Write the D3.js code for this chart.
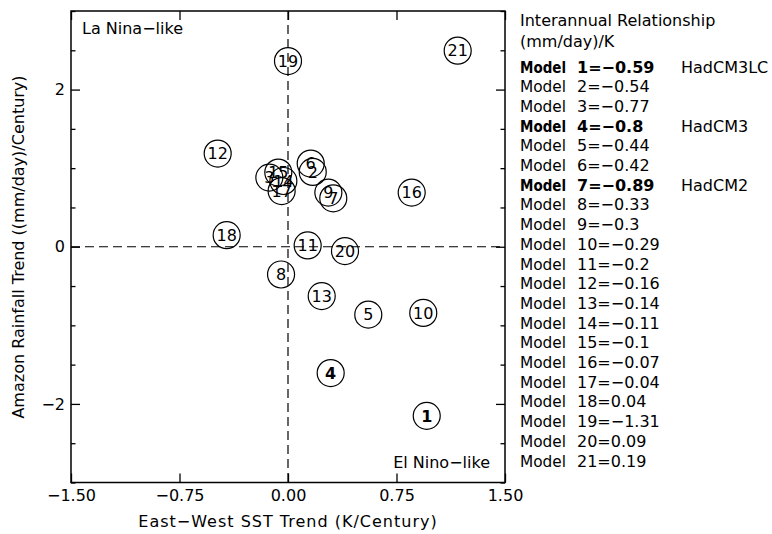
<!DOCTYPE html>
<html>
<head>
<meta charset="utf-8">
<script src="https://cdn.jsdelivr.net/npm/d3@7"></script>
<style>
  body { margin: 0; background: #fff; }
  text { font-family: "DejaVu Sans", sans-serif; fill: #000; }
</style>
</head>
<body>
<svg id="chart" width="772" height="534"></svg>
<script>
// ---- data ----
const modelIds   = [1,2,3,4,5,6,7,8,9,10,11,12,13,14,15,16,17,18,19,20,21];
const sstTrend   = [0.959,0.171,-0.129,0.295,0.555,0.157,0.313,-0.048,0.279,0.935,0.136,-0.486,0.233,-0.032,-0.067,0.855,-0.044,-0.424,0.0,0.394,1.173];
const rainTrend  = [-2.152,0.952,0.880,-1.607,-0.864,1.059,0.616,-0.353,0.689,-0.842,0.017,1.186,-0.628,0.837,0.944,0.689,0.709,0.147,2.363,-0.056,2.495];
const interannual= ["−0.59","−0.54","−0.77","−0.8","−0.44","−0.42","−0.89","−0.33","−0.3","−0.29","−0.2","−0.16","−0.14","−0.11","−0.1","−0.07","−0.04","0.04","−1.31","0.09","0.19"];
const boldModels = [1,4,7];
const boldPoints = [1,4];
const modelNames = {1:"HadCM3LC", 4:"HadCM3", 7:"HadCM2"};
const xTicks = [-1.5,-0.75,0,0.75,1.5];
const yMajorTicks = [-2,0,2];
const yMinorTicks = [-3,-2.5,-1.5,-1,-0.5,0.5,1,1.5,2.5,3];

const svg = d3.select("#chart");
const L = 71, R = 505, T = 11, B = 482.5;
const x = d3.scaleLinear().domain([-1.5,1.5]).range([L,R]);
const y = d3.scaleLinear().domain([-3,3]).range([B,T]);

// axes
const fmtX = d3.format(".2f");
const gB = svg.append("g").attr("transform",`translate(0,${B})`)
  .call(d3.axisBottom(x).tickValues(xTicks).tickFormat(fmtX).tickSize(-9).tickPadding(7));
const gT = svg.append("g").attr("transform",`translate(0,${T})`)
  .call(d3.axisTop(x).tickValues(xTicks).tickFormat("").tickSize(-9));
const gL = svg.append("g").attr("transform",`translate(${L},0)`)
  .call(d3.axisLeft(y).tickValues(yMajorTicks).tickFormat(d3.format("d")).tickSize(-9).tickPadding(6));
const gLm = svg.append("g").attr("transform",`translate(${L},0)`)
  .call(d3.axisLeft(y).tickValues(yMinorTicks).tickFormat("").tickSize(-4.5));
const gR = svg.append("g").attr("transform",`translate(${R},0)`)
  .call(d3.axisRight(y).tickValues(yMajorTicks).tickFormat("").tickSize(-9));
const gRm = svg.append("g").attr("transform",`translate(${R},0)`)
  .call(d3.axisRight(y).tickValues(yMinorTicks).tickFormat("").tickSize(-4.5));
[gB,gT,gL,gLm,gR,gRm].forEach(g => {
  g.select(".domain").remove();
  g.selectAll("line").attr("stroke","#000").attr("stroke-width",1.3);
  g.selectAll("text").attr("font-family","DejaVu Sans").attr("font-size",16).attr("fill","#000");
});

// frame
svg.append("rect").attr("x",L).attr("y",T).attr("width",R-L).attr("height",B-T)
  .attr("fill","none").attr("stroke","#000").attr("stroke-width",1.5);

// dashed zero lines
svg.append("line").attr("x1",x(0)).attr("x2",x(0)).attr("y1",T).attr("y2",B)
  .attr("stroke","#000").attr("stroke-width",1.2).attr("stroke-dasharray","9,5");
svg.append("line").attr("x1",L).attr("x2",R).attr("y1",y(0)).attr("y2",y(0))
  .attr("stroke","#000").attr("stroke-width",1.2).attr("stroke-dasharray","9,5");

// points
const pts = modelIds.map((id,i)=>({id, x:sstTrend[i], y:rainTrend[i]}));
const gp = svg.append("g").selectAll("g").data(pts).join("g")
  .attr("transform",d=>`translate(${x(d.x)},${y(d.y)})`);
gp.append("circle").attr("r",13.5).attr("fill","none").attr("stroke","#000").attr("stroke-width",1.2);
gp.append("text").attr("text-anchor","middle").attr("dy","0.36em")
  .attr("font-size",16).attr("font-weight",d=>boldPoints.includes(d.id)?"bold":"normal")
  .text(d=>d.id);

// corner annotations
svg.append("text").attr("x",82).attr("y",34).attr("font-size",16).text("La Nina−like");
svg.append("text").attr("x",490).attr("y",468).attr("text-anchor","end").attr("font-size",16).text("El Nino−like");

// axis titles
svg.append("text").attr("x",(L+R)/2).attr("y",527).attr("text-anchor","middle").attr("font-size",16)
  .attr("letter-spacing",1).text("East−West SST Trend (K/Century)");
svg.append("text").attr("transform","translate(24,247) rotate(-90)").attr("text-anchor","middle").attr("font-size",16)
  .text("Amazon Rainfall Trend ((mm/day)/Century)");

// legend
const lx = 520;
svg.append("text").attr("x",lx).attr("y",26).attr("font-size",16).text("Interannual Relationship");
svg.append("text").attr("x",lx).attr("y",47).attr("font-size",16).text("(mm/day)/K");
const ly0 = 72.5, ldy = 19.7;
modelIds.forEach((id,i)=>{
  const bold = boldModels.includes(id);
  const t = svg.append("text").attr("x",lx).attr("y",ly0+i*ldy).attr("font-size",16)
    .attr("font-weight",bold?"bold":"normal");
  t.append("tspan").attr("textLength",46).attr("lengthAdjust","spacingAndGlyphs").text("Model");
  t.append("tspan").attr("x",lx+57).text(`${id}=${interannual[i]}`);
  if (modelNames[id]) {
    svg.append("text").attr("x",681).attr("y",ly0+i*ldy).attr("font-size",16).text(modelNames[id]);
  }
});
</script>
</body>
</html>
